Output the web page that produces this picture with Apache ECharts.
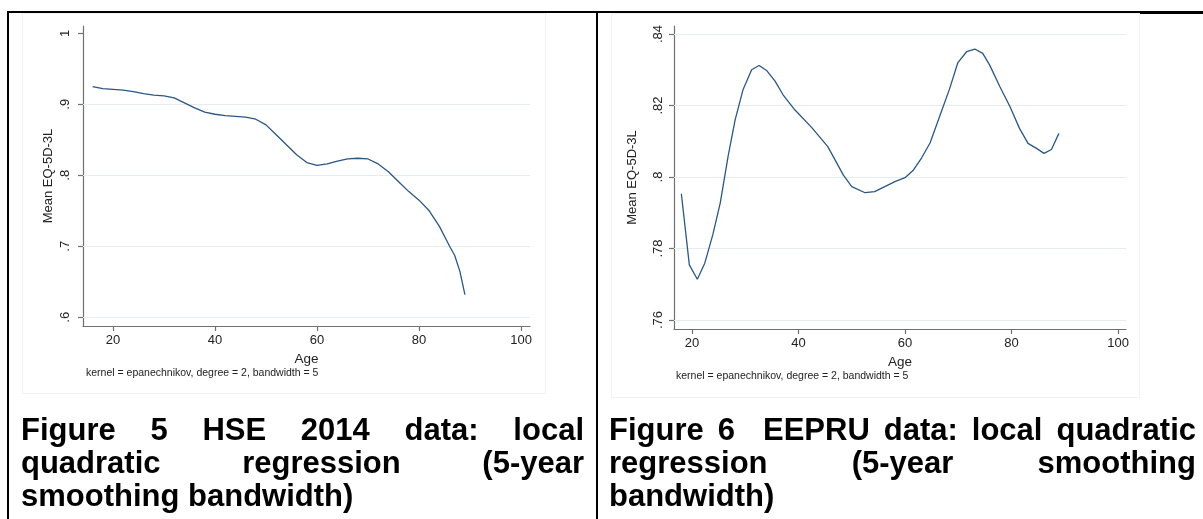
<!DOCTYPE html>
<html>
<head>
<meta charset="utf-8">
<script src="https://cdn.jsdelivr.net/npm/echarts@6/dist/echarts.min.js"></script>
<style>
  html, body { margin: 0; padding: 0; background: #fff; }
  .page { position: relative; width: 1203px; height: 519px; overflow: hidden; font-family: 'Liberation Sans', Arial, sans-serif; }
  .rule { position: absolute; background: #000; }
  .frame { position: absolute; border: 1px solid #f1f2f2; box-sizing: border-box; }
  #chart { position: absolute; left: 0; top: 0; width: 1203px; height: 519px; }
  .caption { position: absolute; top: 413px; font-weight: bold; font-size: 31px; line-height: 33px; text-align: justify; color: #000; }
</style>
</head>
<body>
<div class="page">
  <div class="frame" style="left:22px;top:13px;width:524px;height:381px"></div>
  <div class="frame" style="left:611px;top:13px;width:529px;height:385px"></div>
  <div id="chart"></div>
  <div class="rule" style="left:7px;top:11px;width:1196px;height:2px"></div>
  <div class="rule" style="left:1140px;top:13px;width:63px;height:1px"></div>
  <div class="rule" style="left:7px;top:11px;width:2px;height:508px"></div>
  <div class="rule" style="left:596px;top:11px;width:2px;height:508px"></div>
  <div class="caption" style="left:21px;width:563px">Figure 5 HSE 2014 data: local quadratic regression (5-year smoothing bandwidth)</div>
  <div class="caption" style="left:609px;width:587px">Figure 6&nbsp; EEPRU data: local quadratic regression (5-year smoothing bandwidth)</div>
</div>
<script>
// Figure 5 - HSE 2014
var hseAge = [16, 18, 20, 22, 24, 26, 28, 30, 32, 34, 36, 38, 40, 42, 44, 46, 48, 50, 52, 54, 56, 58, 60,
  62, 64, 66, 68, 70, 72, 74, 76, 78, 80, 82, 84, 86, 87, 88, 89]
var hseValue = [0.925, 0.922, 0.921, 0.920, 0.918, 0.915, 0.913, 0.912, 0.909, 0.902, 0.895, 0.889, 0.886,
  0.884, 0.883, 0.882, 0.879, 0.871, 0.857, 0.843, 0.829, 0.818, 0.814, 0.816, 0.820, 0.823, 0.824, 0.823,
  0.816, 0.805, 0.791, 0.777, 0.765, 0.750, 0.728, 0.700, 0.687, 0.665, 0.632]
var hseTicks = [0.6, 0.7, 0.8, 0.9, 1]
var hseGridLines = [0.6, 0.7, 0.8, 0.9]

// Figure 6 - EEPRU
var eepruAge = [18, 19.5, 21, 22.4, 23.9, 25.3, 26.8, 28.1, 29.6, 31.2, 32.6, 34, 35.6, 37.1, 39.3, 42.5,
  45.5, 48.4, 50, 52.5, 54.3, 58.1, 60, 61.5, 63.1, 64.7, 66.5, 68.4, 69.9, 71.6, 73.1, 74.6, 75.9, 77.8,
  79.7, 81.5, 83.1, 84.7, 86.1, 87.5, 88.9]
var eepruValue = [0.7953, 0.7754, 0.7714, 0.7759, 0.7838, 0.7927, 0.8060, 0.8160, 0.8245, 0.8300, 0.8312,
  0.8298, 0.8268, 0.8230, 0.8188, 0.8138, 0.8085, 0.8006, 0.7973, 0.7956, 0.7959, 0.7987, 0.7998, 0.8018,
  0.8053, 0.8095, 0.8169, 0.8248, 0.8319, 0.8351, 0.8358, 0.8346, 0.8313, 0.8253, 0.8197, 0.8136, 0.8094,
  0.8080, 0.8066, 0.8077, 0.8122]
var eepruTicks = [0.76, 0.78, 0.8, 0.82, 0.84]

var ageTicks = [20, 40, 60, 80, 100]
var kernelNote = 'kernel = epanechnikov, degree = 2, bandwidth = 5'

var FONT = "'Liberation Sans', Arial, sans-serif"
var lineColor = '#2b5782'
var axisColor = '#707070'
var gridColor = '#e4edef'

function stataLabel(v) {
  // stata drops the leading zero: .9, .84
  return String(Math.round(v * 100) / 100).replace(/^0\./, '.')
}

function pairs(xs, ys) {
  return xs.map(function (x, i) { return [x, ys[i]] })
}

function xAxisOf(gridIndex, min, max, nameGap) {
  return {
    type: 'value', gridIndex: gridIndex, min: min, max: max,
    name: 'Age', nameLocation: 'middle', nameGap: nameGap,
    nameTextStyle: { color: '#222', fontSize: 13.5, fontFamily: FONT },
    axisLine: { onZero: false, lineStyle: { color: axisColor, width: 1.2 } },
    axisTick: { length: 5, customValues: ageTicks, lineStyle: { color: axisColor, width: 1.2 } },
    axisLabel: { customValues: ageTicks, margin: 8, color: '#222', fontSize: 13, fontFamily: FONT },
    splitLine: { show: false }
  }
}

function yAxisOf(gridIndex, min, max, ticks, labelMargin, nameGap) {
  return {
    type: 'value', gridIndex: gridIndex, min: min, max: max,
    name: 'Mean EQ-5D-3L', nameLocation: 'middle', nameGap: nameGap, nameRotate: 90,
    nameTextStyle: { color: '#222', fontSize: 13, fontFamily: FONT },
    axisLine: { show: true, onZero: false, lineStyle: { color: axisColor, width: 1.2 } },
    axisTick: { length: 5, customValues: ticks, lineStyle: { color: axisColor, width: 1.2 } },
    axisLabel: { customValues: ticks, rotate: 90, margin: labelMargin, color: '#222', fontSize: 13,
      fontFamily: FONT, formatter: stataLabel },
    splitLine: { show: false }
  }
}

function curve(axisIndex, data, gridLines) {
  return {
    type: 'line', xAxisIndex: axisIndex, yAxisIndex: axisIndex,
    data: data, showSymbol: false, smooth: false, z: 3,
    lineStyle: { color: lineColor, width: 1.3 },
    markLine: {
      silent: true, symbol: 'none', z: 1, label: { show: false },
      lineStyle: { color: gridColor, width: 1, type: 'solid' },
      data: gridLines.map(function (v) { return { yAxis: v } })
    }
  }
}

var chart = echarts.init(document.getElementById('chart'), null, { renderer: 'canvas' })
chart.setOption({
  animation: false,
  backgroundColor: 'transparent',
  grid: [
    { left: 83, top: 26, width: 447, height: 300 },
    { left: 674, top: 26, width: 452, height: 303 }
  ],
  xAxis: [
    xAxisOf(0, 14.118, 101.76, 15),
    xAxisOf(1, 16.62, 101.5, 18)
  ],
  yAxis: [
    yAxisOf(0, 0.5877, 1.0103, hseTicks, 11, 28),
    yAxisOf(1, 0.75748, 0.84224, eepruTicks, 9, 35)
  ],
  series: [
    curve(0, pairs(hseAge, hseValue), hseGridLines),
    curve(1, pairs(eepruAge, eepruValue), eepruTicks)
  ],
  graphic: [
    { type: 'text', left: 86, top: 368, style: { text: kernelNote, font: '10.5px ' + FONT, fill: '#222' } },
    { type: 'text', left: 676, top: 371, style: { text: kernelNote, font: '10.5px ' + FONT, fill: '#222' } }
  ]
})
</script>
</body>
</html>
